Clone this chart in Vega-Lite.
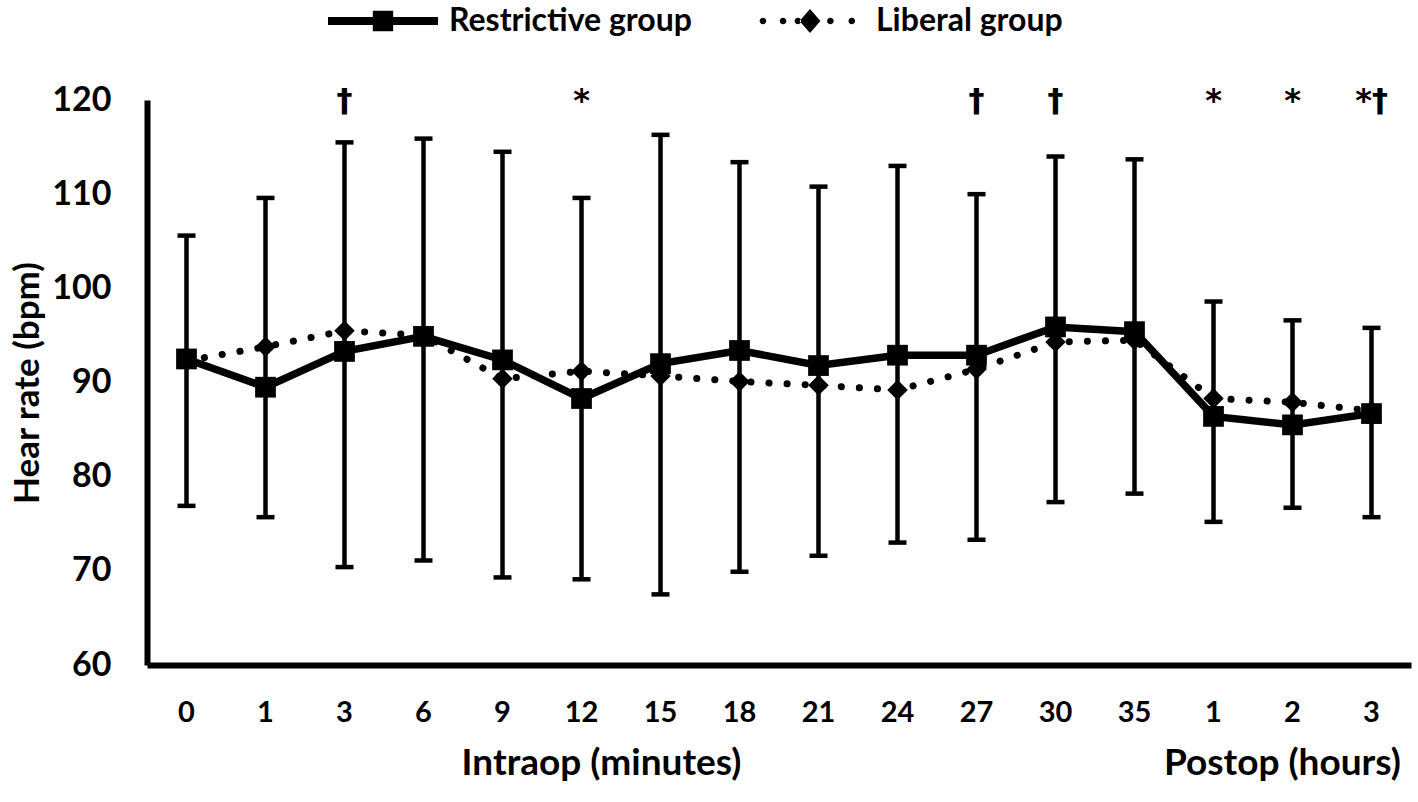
{
  "$schema": "https://vega.github.io/schema/vega-lite/v6.json",
  "width": 1264,
  "height": 565,
  "autosize": {"type": "none"},
  "padding": {"left": 147, "top": 100, "right": 7, "bottom": 137},
  "background": "white",
  "config": {
    "view": {"stroke": null},
    "font": "Lato",
    "axis": {"grid": false}
  },
  "datasets": {
    "means": [
      {"t": "0", "group": "Restrictive group", "hr": 92.5},
      {"t": "1", "group": "Restrictive group", "hr": 89.5},
      {"t": "3", "group": "Restrictive group", "hr": 93.3},
      {"t": "6", "group": "Restrictive group", "hr": 94.9},
      {"t": "9", "group": "Restrictive group", "hr": 92.4},
      {"t": "12", "group": "Restrictive group", "hr": 88.3},
      {"t": "15", "group": "Restrictive group", "hr": 92.0},
      {"t": "18", "group": "Restrictive group", "hr": 93.4},
      {"t": "21", "group": "Restrictive group", "hr": 91.8},
      {"t": "24", "group": "Restrictive group", "hr": 92.9},
      {"t": "27", "group": "Restrictive group", "hr": 92.9},
      {"t": "30", "group": "Restrictive group", "hr": 95.9},
      {"t": "35", "group": "Restrictive group", "hr": 95.4},
      {"t": "1h", "group": "Restrictive group", "hr": 86.4},
      {"t": "2h", "group": "Restrictive group", "hr": 85.5},
      {"t": "3h", "group": "Restrictive group", "hr": 86.7},
      {"t": "0", "group": "Liberal group", "hr": 92.3},
      {"t": "1", "group": "Liberal group", "hr": 93.8},
      {"t": "3", "group": "Liberal group", "hr": 95.5},
      {"t": "6", "group": "Liberal group", "hr": 95.0},
      {"t": "9", "group": "Liberal group", "hr": 90.4},
      {"t": "12", "group": "Liberal group", "hr": 91.2},
      {"t": "15", "group": "Liberal group", "hr": 90.7},
      {"t": "18", "group": "Liberal group", "hr": 90.1},
      {"t": "21", "group": "Liberal group", "hr": 89.7},
      {"t": "24", "group": "Liberal group", "hr": 89.2},
      {"t": "27", "group": "Liberal group", "hr": 91.4},
      {"t": "30", "group": "Liberal group", "hr": 94.3},
      {"t": "35", "group": "Liberal group", "hr": 94.5},
      {"t": "1h", "group": "Liberal group", "hr": 88.3},
      {"t": "2h", "group": "Liberal group", "hr": 87.9},
      {"t": "3h", "group": "Liberal group", "hr": 87.0}
    ],
    "sd": [
      {"t": "0", "lo": 76.9, "hi": 105.6},
      {"t": "1", "lo": 75.7, "hi": 109.6},
      {"t": "3", "lo": 70.4, "hi": 115.5},
      {"t": "6", "lo": 71.1, "hi": 115.9},
      {"t": "9", "lo": 69.3, "hi": 114.5},
      {"t": "12", "lo": 69.1, "hi": 109.6},
      {"t": "15", "lo": 67.5, "hi": 116.3},
      {"t": "18", "lo": 69.9, "hi": 113.4},
      {"t": "21", "lo": 71.6, "hi": 110.8},
      {"t": "24", "lo": 73.0, "hi": 113.0},
      {"t": "27", "lo": 73.3, "hi": 110.0},
      {"t": "30", "lo": 77.3, "hi": 114.0},
      {"t": "35", "lo": 78.2, "hi": 113.7},
      {"t": "1h", "lo": 75.2, "hi": 98.6},
      {"t": "2h", "lo": 76.7, "hi": 96.6},
      {"t": "3h", "lo": 75.7, "hi": 95.8}
    ],
    "sig": [
      {"t": "3", "s": "†"},
      {"t": "12", "s": "*"},
      {"t": "27", "s": "†"},
      {"t": "30", "s": "†"},
      {"t": "1h", "s": "*"},
      {"t": "2h", "s": "*"},
      {"t": "3h", "s": "*†"}
    ],
    "titles": [
      {"t": "12", "label": "Intraop (minutes)"},
      {"t": "2h", "label": "Postop (hours)"}
    ]
  },
  "layer": [
    {
      "data": {"name": "sd"},
      "mark": {"type": "rule", "color": "black", "strokeWidth": 4.5},
      "encoding": {
        "x": {
          "field": "t", "type": "nominal", "sort": null,
          "scale": {"domain": ["0","1","3","6","9","12","15","18","21","24","27","30","35","1h","2h","3h"], "paddingInner": 0, "paddingOuter": 0},
          "axis": {
            "title": null,
            "labelExpr": "replace(datum.label, 'h', '')",
            "labelAngle": 0,
            "labelFont": "Lato",
            "labelFontSize": 29,
            "labelFontWeight": "bold",
            "labelColor": "black",
            "labelPadding": 33,
            "ticks": false,
            "domainColor": "black",
            "domainWidth": 6
          }
        },
        "y": {
          "field": "lo", "type": "quantitative",
          "scale": {"domain": [60, 120], "nice": false, "zero": false},
          "axis": {
            "title": "Hear rate (bpm)",
            "values": [60, 70, 80, 90, 100, 110, 120],
            "ticks": false,
            "labelFont": "Lato",
            "labelFontSize": 34,
            "labelFontWeight": "bold",
            "labelColor": "black",
            "labelPadding": 36,
            "domainColor": "black",
            "domainWidth": 6,
            "titleFont": "Lato",
            "titleFontSize": 35,
            "titleFontWeight": "bold",
            "titleColor": "black",
            "titlePadding": 6
          }
        },
        "y2": {"field": "hi"}
      }
    },
    {
      "data": {"name": "sd"},
      "mark": {"type": "tick", "color": "black", "size": 18, "thickness": 4.5, "opacity": 1},
      "encoding": {
        "x": {"field": "t", "type": "nominal", "sort": null},
        "y": {"field": "hi", "type": "quantitative"}
      }
    },
    {
      "data": {"name": "sd"},
      "mark": {"type": "tick", "color": "black", "size": 18, "thickness": 4.5, "opacity": 1},
      "encoding": {
        "x": {"field": "t", "type": "nominal", "sort": null},
        "y": {"field": "lo", "type": "quantitative"}
      }
    },
    {
      "data": {"name": "means"},
      "transform": [{"filter": "datum.group === 'Liberal group'"}],
      "mark": {"type": "line", "color": "black", "strokeWidth": 7, "strokeDash": [0.1, 18], "strokeCap": "round"},
      "encoding": {
        "x": {"field": "t", "type": "nominal", "sort": null},
        "y": {"field": "hr", "type": "quantitative"}
      }
    },
    {
      "data": {"name": "means"},
      "transform": [{"filter": "datum.group === 'Liberal group'"}],
      "mark": {"type": "point", "shape": "diamond", "filled": true, "color": "black", "size": 420, "opacity": 1},
      "encoding": {
        "x": {"field": "t", "type": "nominal", "sort": null},
        "y": {"field": "hr", "type": "quantitative"}
      }
    },
    {
      "data": {"name": "means"},
      "transform": [{"filter": "datum.group === 'Restrictive group'"}],
      "mark": {"type": "line", "color": "black", "strokeWidth": 7.5},
      "encoding": {
        "x": {"field": "t", "type": "nominal", "sort": null},
        "y": {"field": "hr", "type": "quantitative"}
      }
    },
    {
      "data": {"name": "means"},
      "transform": [{"filter": "datum.group === 'Restrictive group'"}],
      "mark": {"type": "point", "shape": "square", "filled": true, "color": "black", "size": 430, "opacity": 1},
      "encoding": {
        "x": {"field": "t", "type": "nominal", "sort": null},
        "y": {"field": "hr", "type": "quantitative"}
      }
    },
    {
      "data": {"name": "sig"},
      "mark": {"type": "text", "font": "DejaVu Sans", "fontSize": 32, "fontWeight": "bold", "color": "black", "baseline": "alphabetic", "align": "center", "dy": 11},
      "encoding": {
        "x": {"field": "t", "type": "nominal", "sort": null},
        "y": {"datum": 120},
        "text": {"field": "s"}
      }
    },
    {
      "data": {"name": "titles"},
      "transform": [{"filter": "datum.t === '12'"}],
      "mark": {"type": "text", "font": "Lato", "fontSize": 37, "fontWeight": "bold", "color": "black", "baseline": "alphabetic", "align": "center", "dx": 20, "dy": 110},
      "encoding": {
        "x": {"field": "t", "type": "nominal", "sort": null},
        "y": {"datum": 60},
        "text": {"field": "label"}
      }
    },
    {
      "data": {"name": "titles"},
      "transform": [{"filter": "datum.t === '2h'"}],
      "mark": {"type": "text", "font": "Lato", "fontSize": 37, "fontWeight": "bold", "color": "black", "baseline": "alphabetic", "align": "center", "dx": -10, "dy": 110},
      "encoding": {
        "x": {"field": "t", "type": "nominal", "sort": null},
        "y": {"datum": 60},
        "text": {"field": "label"}
      }
    },
    {
      "data": {"name": "means"},
      "mark": {"type": "point", "filled": true, "color": "black", "opacity": 0},
      "encoding": {
        "x": {"field": "t", "type": "nominal", "sort": null},
        "y": {"field": "hr", "type": "quantitative"},
        "shape": {
          "field": "group", "type": "nominal",
          "scale": {
            "domain": ["Restrictive group", "Liberal group"],
            "range": [
              "M-1,-0.073L1,-0.073L1,0.073L-1,0.073ZM-0.185,-0.185L0.185,-0.185L0.185,0.185L-0.185,0.185Z",
              "M-0.915,0A0.06,0.06 0 1,0 -0.795,0A0.06,0.06 0 1,0 -0.915,0ZM-0.55,0A0.06,0.06 0 1,0 -0.43,0A0.06,0.06 0 1,0 -0.55,0ZM-0.28,0A0.06,0.06 0 1,0 -0.16,0A0.06,0.06 0 1,0 -0.28,0ZM0.31,0A0.06,0.06 0 1,0 0.43,0A0.06,0.06 0 1,0 0.31,0ZM0.7,0A0.06,0.06 0 1,0 0.82,0A0.06,0.06 0 1,0 0.7,0ZM0,-0.22L0.19,0L0,0.22L-0.19,0Z"
            ]
          },
          "legend": {
            "title": null,
            "orient": "none",
            "legendX": 180,
            "legendY": -135,
            "direction": "horizontal",
            "columnPadding": 62,
            "padding": 0,
            "symbolSize": 12100,
            "labelFont": "Lato",
            "labelFontSize": 32,
            "labelFontWeight": "bold",
            "labelColor": "black",
            "labelOffset": 10,
            "labelLimit": 500,
            "encode": {
              "symbols": {
                "update": {
                  "opacity": {"value": 1},
                  "fill": {"value": "black"},
                  "fillOpacity": {"value": 1},
                  "stroke": {"value": "transparent"},
                  "strokeWidth": {"value": 0}
                }
              }
            }
          }
        }
      }
    }
  ]
}
